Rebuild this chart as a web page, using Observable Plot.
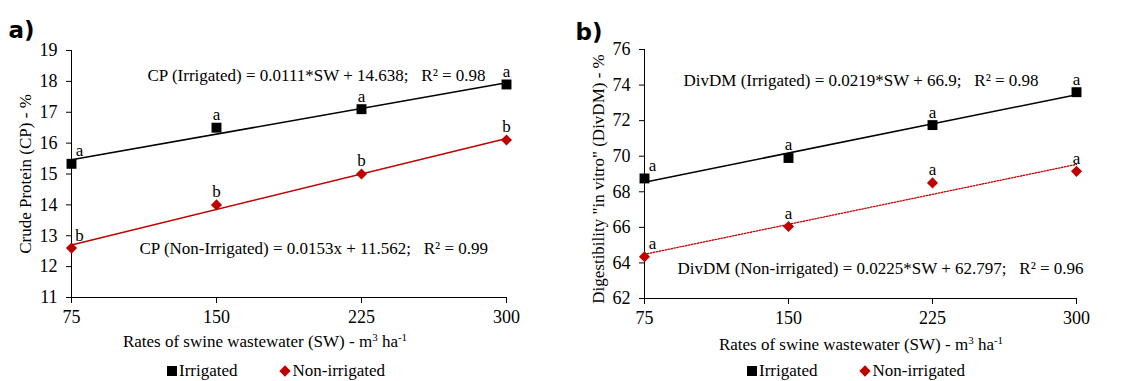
<!DOCTYPE html>
<html><head><meta charset="utf-8">
<script src="https://cdn.jsdelivr.net/npm/d3@7"></script>
<script src="https://cdn.jsdelivr.net/npm/@observablehq/plot@0.6"></script>
<style>
body{margin:0;background:#fff;}
#wrap{position:relative;width:1137px;height:381px;display:flex;overflow:hidden;}
.panel{position:relative;}
.legend{position:absolute;top:360px;height:22px;line-height:22px;font-family:"Liberation Serif",serif;font-size:17px;color:#000;white-space:nowrap;display:flex;align-items:center;}
.sq{display:inline-block;width:10px;height:10px;background:#000;margin-right:2px;}
.dm{display:inline-block;width:8px;height:8px;background:#c00000;transform:rotate(45deg);margin-right:4px;margin-left:2px;}
.gap{display:inline-block;width:41px;}
</style></head><body><div id="wrap"></div>
<script>
// ---- data ----
const rates = [75, 150, 225, 300];
const cpIrrigated = [15.33, 16.5, 17.1, 17.9];
const cpNonIrrigated = [12.6, 14.0, 15.0, 16.1];
const cpIrrLetters = ["a", "a", "a", "a"];
const cpNonLetters = ["b", "b", "b", "b"];
const dmIrrigated = [68.75, 69.9, 71.75, 73.6];
const dmNonIrrigated = [64.35, 66.05, 68.5, 69.15];
const dmIrrLetters = ["a", "a", "a", "a"];
const dmNonLetters = ["a", "a", "a", "a"];
const cpTicks = [11, 12, 13, 14, 15, 16, 17, 18, 19];
const dmTicks = [62, 64, 66, 68, 70, 72, 74, 76];

const RED = "#c00000";
const FONT = "Liberation Serif";

function panel(cfg) {
  const irr = rates.map((x, i) => ({x, y: cfg.irr[i], l: cfg.irrL[i]}));
  const non = rates.map((x, i) => ({x, y: cfg.non[i], l: cfg.nonL[i]}));
  const letterMarks = (data) => [
    Plot.text(data.slice(0, 1), {x: "x", y: "y", text: "l", dy: -13, dx: 8, lineAnchor: "middle", fontSize: 17}),
    Plot.text(data.slice(1), {x: "x", y: "y", text: "l", dy: -13, lineAnchor: "middle", fontSize: 17})
  ];
  const plot = Plot.plot({
    width: cfg.width, height: 360,
    marginLeft: cfg.ml, marginRight: cfg.mr, marginTop: cfg.mt, marginBottom: cfg.mb,
    x: {domain: [75, 300]},
    y: {domain: [cfg.yTicks[0], cfg.yTicks[cfg.yTicks.length - 1]]},
    style: {fontFamily: FONT, fontSize: "17px", color: "#000", background: "#fff", overflow: "visible"},
    marks: [
      Plot.ruleX([75], {stroke: "#000", strokeWidth: 1}),
      Plot.ruleY([cfg.yTicks[0]], {stroke: "#000", strokeWidth: 1}),
      Plot.axisY({ticks: cfg.yTicks, tickSize: 5, tickPadding: 9, label: null, fontSize: 18, strokeOpacity: 1}),
      Plot.axisX({ticks: rates, tickSize: 6, tickPadding: 7, label: null, fontSize: 18, strokeOpacity: 1}),
      Plot.linearRegressionY(irr, {x: "x", y: "y", stroke: "#000", strokeWidth: 1.5, ci: 0}),
      Plot.linearRegressionY(non, {x: "x", y: "y", stroke: RED, strokeWidth: cfg.dash ? 1.3 : 1.5, ci: 0, strokeDasharray: cfg.dash}),
      Plot.dot(irr, {x: "x", y: "y", symbol: "square", r: 5.6, fill: "#000"}),
      Plot.dot(non, {x: "x", y: "y", symbol: "diamond2", r: 5, fill: RED}),
      ...letterMarks(irr),
      ...letterMarks(non),
      Plot.text([cfg.eqIrr], {frameAnchor: "top-left", textAnchor: "start", lineAnchor: "middle", dx: cfg.eqIrrDx, dy: cfg.eqIrrDy, fontSize: 17}),
      Plot.text([cfg.eqNon], {frameAnchor: "top-left", textAnchor: "start", lineAnchor: "middle", dx: cfg.eqNonDx, dy: cfg.eqNonDy, fontSize: 17}),
      Plot.text([cfg.tag], {frameAnchor: "top-left", textAnchor: "start", lineAnchor: "middle", dx: cfg.tagDx, dy: cfg.tagDy, fontSize: 23, fontWeight: 900, fontFamily: "DejaVu Sans"})
    ]
  });
  const svg = d3.select(plot);
  const xl = svg.append("text").attr("x", cfg.xlX).attr("y", cfg.xlY).attr("text-anchor", "middle")
    .attr("font-family", FONT).attr("font-size", 17).attr("fill", "#000");
  xl.append("tspan").text("Rates of swine wastewater (SW) - m");
  xl.append("tspan").attr("dy", -6).attr("font-size", 11).text("3");
  xl.append("tspan").attr("dy", 6).text(" ha");
  xl.append("tspan").attr("dy", -6).attr("font-size", 11).text("-1");
  svg.append("text").attr("transform", `translate(${cfg.ylX},${cfg.ylY}) rotate(-90)`)
    .attr("text-anchor", "middle").attr("dominant-baseline", "central")
    .attr("font-family", FONT).attr("font-size", 17).attr("fill", "#000").text(cfg.yLabel);

  const div = document.createElement("div");
  div.className = "panel";
  div.style.width = cfg.width + "px";
  div.appendChild(plot);
  const leg = document.createElement("div");
  leg.className = "legend";
  leg.style.left = cfg.legLeft + "px";
  leg.innerHTML = `<span class="sq"></span>Irrigated<span class="gap"></span><span class="dm"></span>Non-irrigated`;
  div.appendChild(leg);
  return div;
}

const wrap = document.getElementById("wrap");
wrap.appendChild(panel({
  width: 568, ml: 71, mr: 62, mt: 50, mb: 63,
  irr: cpIrrigated, non: cpNonIrrigated, irrL: cpIrrLetters, nonL: cpNonLetters,
  yTicks: cpTicks, dash: null,
  eqIrr: "CP (Irrigated) = 0.0111*SW + 14.638;   R² = 0.98", eqIrrDx: 76, eqIrrDy: 25,
  eqNon: "CP (Non-Irrigated) = 0.0153x + 11.562;   R² = 0.99", eqNonDx: 68, eqNonDy: 198,
  tag: "a)", tagDx: -63, tagDy: -20,
  xlX: 265, xlY: 347, ylX: 25, ylY: 174, yLabel: "Crude Protein (CP) - %",
  legLeft: 167
}));
wrap.appendChild(panel({
  width: 569, ml: 76, mr: 61, mt: 49, mb: 62,
  irr: dmIrrigated, non: dmNonIrrigated, irrL: dmIrrLetters, nonL: dmNonLetters,
  yTicks: dmTicks, dash: "1.5,1.5",
  eqIrr: "DivDM (Irrigated) = 0.0219*SW + 66.9;   R² = 0.98", eqIrrDx: 39, eqIrrDy: 31,
  eqNon: "DivDM (Non-irrigated) = 0.0225*SW + 62.797;   R² = 0.96", eqNonDx: 33, eqNonDy: 219,
  tag: "b)", tagDx: -69, tagDy: -17,
  xlX: 293, xlY: 350, ylX: 30, ylY: 179, yLabel: 'Digestibility "in vitro" (DivDM) - %',
  legLeft: 179
}));
</script></body></html>
